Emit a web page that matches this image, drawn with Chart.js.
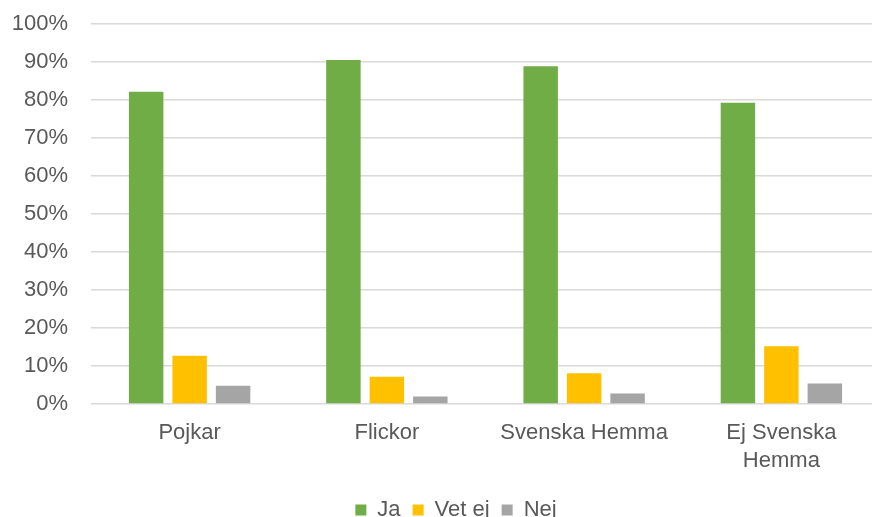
<!DOCTYPE html>
<html>
<head>
<meta charset="utf-8">
<script src="https://cdn.jsdelivr.net/npm/chart.js@4"></script>
<style>
  html, body { margin: 0; padding: 0; background: #fff; overflow: hidden; }
  /* the reference plot runs a little past the right edge of the picture */
  #wrap { width: 880px; height: 517px; }
</style>
</head>
<body>
<div id="wrap"><canvas id="chart"></canvas></div>
<script>
const categories = ['Pojkar', 'Flickor', 'Svenska Hemma', ['Ej Svenska', 'Hemma']];
const ja = [82.1, 90.4, 88.8, 79.2];
const vetEj = [12.7, 7.2, 8.1, 15.2];
const nej = [4.8, 2.0, 2.8, 5.4];

Chart.defaults.font.family = '"Liberation Sans", Arial, sans-serif';
Chart.defaults.font.size = 22;
Chart.defaults.color = '#595959';

// legend sits a bit right of centre in the original
const legendShift = {
  id: 'legendShift',
  afterLayout(chart) {
    chart.legend.left += 16;
    chart.legend.right += 16;
  }
};

new Chart(document.getElementById('chart'), {
  type: 'bar',
  data: {
    labels: categories,
    datasets: [
      { label: 'Ja', data: ja, backgroundColor: '#70AD47' },
      { label: 'Vet ej', data: vetEj, backgroundColor: '#FFC000' },
      { label: 'Nej', data: nej, backgroundColor: '#A5A5A5' }
    ]
  },
  options: {
    responsive: true,
    maintainAspectRatio: false,
    animation: false,
    layout: { padding: { top: 23.5, right: 0, left: 0, bottom: -14 } },
    datasets: { bar: { barPercentage: 0.793, categoryPercentage: 0.661 } },
    scales: {
      x: {
        grid: { display: false },
        border: { display: false },
        afterFit: s => { s.height += 5; },
        ticks: { padding: 7, font: { lineHeight: 1.27 } }
      },
      y: {
        min: 0,
        max: 100,
        afterFit: s => { s.width = 91; },
        ticks: { stepSize: 10, padding: 0, callback: v => v + '%' },
        grid: {
          color: '#d9d9d9', lineWidth: 1.5,
          drawTicks: true, tickLength: 23, tickColor: 'rgba(0,0,0,0)'
        },
        border: { display: false }
      }
    },
    plugins: {
      legend: {
        position: 'bottom',
        labels: { boxWidth: 11, boxHeight: 11, padding: 12 }
      },
      tooltip: { enabled: false }
    }
  },
  plugins: [legendShift]
});
</script>
</body>
</html>
